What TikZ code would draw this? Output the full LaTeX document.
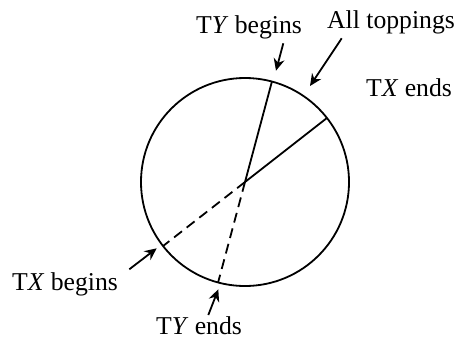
\documentclass[tikz,border=0pt]{standalone}
\usepackage{fontspec}
\setmainfont{Liberation Serif}
\usetikzlibrary{arrows.meta}
\tikzset{
  pointer/.style={
    -{Stealth[length=6pt, width=5.5pt]}, % arrow tip style
    line width=0.9pt,
  },
  tag/.style={inner sep=0pt, anchor=base, font=\fontsize{12.85}{15}\selectfont},
  rim/.style={line width=0.9pt},
  %back/.style={dashed}
  back/.style={line width=0.9pt, dash pattern=on 5pt off 3pt},
}

\begin{document}
\begin{tikzpicture}[x=0.5pt, y=0.5pt]
    \useasboundingbox (0,0) rectangle (458,339);
    % Circle with the four radii
    \coordinate (c) at (245,157);
    \draw[rim] (c) circle[radius=104];
    \path (c) ++(75:104) coordinate (tyb) (c) ++(38:104) coordinate (txe)
          (c) ++(218:104) coordinate (txb) (c) ++(255:104) coordinate (tye);
    \draw[rim] (tyb) -- (c) -- (txe);
    \draw[back] (c) -- (txb);
    \draw[back] (c) -- (tye);
    %
    % Labels
    \node[tag] (lTYb) at (249,305.7) {T\textit{Y} begins};
    \node[tag] (lAll) at (391,310.2) {All toppings};
    \node[tag] (lTXe) at (409,242.8) {T\textit{X} ends};
    \node[tag] (lTXb) at (65,49) {T\textit{X} begins};
    \node[tag] (lTYe) at (199,4.7) {T\textit{Y} ends};
    %
    % Arrows
    \coordinate (aTYb) at (283.3,295.7); \coordinate (hTYb) at (276,268.3);
    \coordinate (aAll) at (341.7,300.7); \coordinate (hAll) at (310,253);
    \coordinate (aTXb) at (129.3,69.7);  \coordinate (hTXb) at (156.7,90.7);
    \coordinate (aTYe) at (208.3,24);    \coordinate (hTYe) at (218.3,49.7);
    \draw[pointer] (aTYb) -- (hTYb);
    \draw[pointer] (aAll) -- (hAll);
    \draw[pointer] (aTXb) -- (hTXb);
    \draw[pointer] (aTYe) -- (hTYe);
\end{tikzpicture}
\end{document}
